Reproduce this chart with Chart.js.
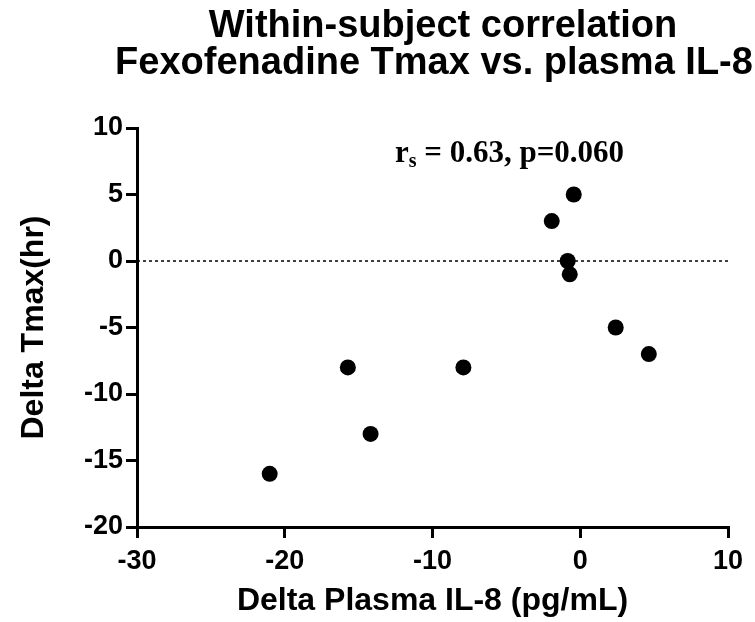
<!DOCTYPE html>
<html><head><meta charset="utf-8">
<script src="https://cdn.jsdelivr.net/npm/chart.js@4/dist/chart.umd.min.js"></script>
<style>html,body{margin:0;padding:0;background:#fff;overflow:hidden}#wrap{width:755px;height:622px;position:relative}</style>
</head><body><div id="wrap"><canvas id="c" width="755" height="622"></canvas></div>
<script>
// ---- data ----
const titleLines = ['Within-subject correlation', 'Fexofenadine Tmax vs. plasma IL-8'];
const xTitle = 'Delta Plasma IL-8 (pg/mL)';
const yTitle = 'Delta Tmax(hr)';
const deltaIL8 = [-0.44, -1.93, -0.85, -0.71, 2.40, 4.64, -15.73, -7.91, -14.19, -21.02];
const deltaTmax = [5, 3, 0, -1, -5, -7, -8, -8, -13, -16];
const xTicks = [-30, -20, -10, 0, 10];
const yTicks = [10, 5, 0, -5, -10, -15, -20];
const statMain = 'r';
const statSub = 's';
const statRest = ' = 0.63, p=0.060';

const points = deltaIL8.map((x, i) => ({x: x, y: deltaTmax[i]}));
const SANS = "'Liberation Sans', Arial, Helvetica, sans-serif";
const SERIF = "'Liberation Serif', 'Times New Roman', Times, serif";

const decor = {
  id: 'decor',
  beforeDatasetsDraw(chart) {
    const {ctx, chartArea, scales} = chart;
    const y0 = scales.y.getPixelForValue(0);
    ctx.save();
    ctx.strokeStyle = '#000';
    ctx.lineWidth = 1.5;
    ctx.setLineDash([3, 3]);
    ctx.beginPath();
    ctx.moveTo(chartArea.left, y0);
    ctx.lineTo(chartArea.right, y0);
    ctx.stroke();
    ctx.restore();
  },
  afterDraw(chart) {
    const {ctx} = chart;
    ctx.save();
    ctx.fillStyle = '#000';
    ctx.textAlign = 'center';
    ctx.textBaseline = 'alphabetic';
    ctx.font = 'bold 38px ' + SANS;
    ctx.fillText(titleLines[0], 443, 37);
    ctx.fillText(titleLines[1], 434, 74);
    // stats annotation
    ctx.textAlign = 'left';
    let x = 395;
    ctx.font = 'bold 31px ' + SERIF;
    ctx.fillText(statMain, x, 162);
    x += ctx.measureText(statMain).width;
    ctx.font = 'bold 20px ' + SERIF;
    ctx.fillText(statSub, x, 167);
    x += ctx.measureText(statSub).width;
    ctx.font = 'bold 31px ' + SERIF;
    ctx.fillText(statRest, x, 162);
    ctx.restore();
  }
};

const tickFont = {family: SANS, size: 27, weight: 'bold'};
const axisTitleFont = {family: SANS, size: 32, weight: 'bold'};

new Chart(document.getElementById('c'), {
  type: 'scatter',
  data: {
    datasets: [{
      data: points,
      backgroundColor: '#000',
      borderColor: '#000',
      borderWidth: 0,
      pointRadius: 8,
      pointHoverRadius: 8
    }]
  },
  options: {
    responsive: false,
    devicePixelRatio: 1,
    animation: false,
    events: [],
    layout: {padding: {top: 128, right: 27, bottom: 0, left: 0}},
    plugins: {legend: {display: false}, tooltip: {enabled: false}, title: {display: false}},
    scales: {
      x: {
        type: 'linear',
        min: xTicks[0], max: xTicks[xTicks.length - 1],
        afterBuildTicks: s => { s.ticks = xTicks.map(v => ({value: v})); },
        afterFit: s => { s.height = 95; },
        ticks: {font: tickFont, color: '#000', padding: 7, maxRotation: 0, autoSkip: false},
        grid: {drawOnChartArea: false, drawTicks: true, tickLength: 11, lineWidth: 3, color: '#000'},
        border: {display: true, color: '#000', width: 3},
        title: {display: true, text: xTitle, font: axisTitleFont, color: '#000', padding: {top: 0, bottom: 2}}
      },
      y: {
        type: 'linear',
        min: yTicks[yTicks.length - 1], max: yTicks[0],
        afterBuildTicks: s => { s.ticks = yTicks.slice().reverse().map(v => ({value: v})); },
        afterFit: s => { s.width = 137; },
        ticks: {font: tickFont, color: '#000', padding: 3, autoSkip: false},
        grid: {drawOnChartArea: false, drawTicks: true, tickLength: 11, lineWidth: 3, color: '#000'},
        border: {display: true, color: '#000', width: 3},
        title: {display: true, text: yTitle, font: axisTitleFont, color: '#000', padding: {top: 15, bottom: 0}}
      }
    }
  },
  plugins: [decor]
});
</script>
</body></html>
